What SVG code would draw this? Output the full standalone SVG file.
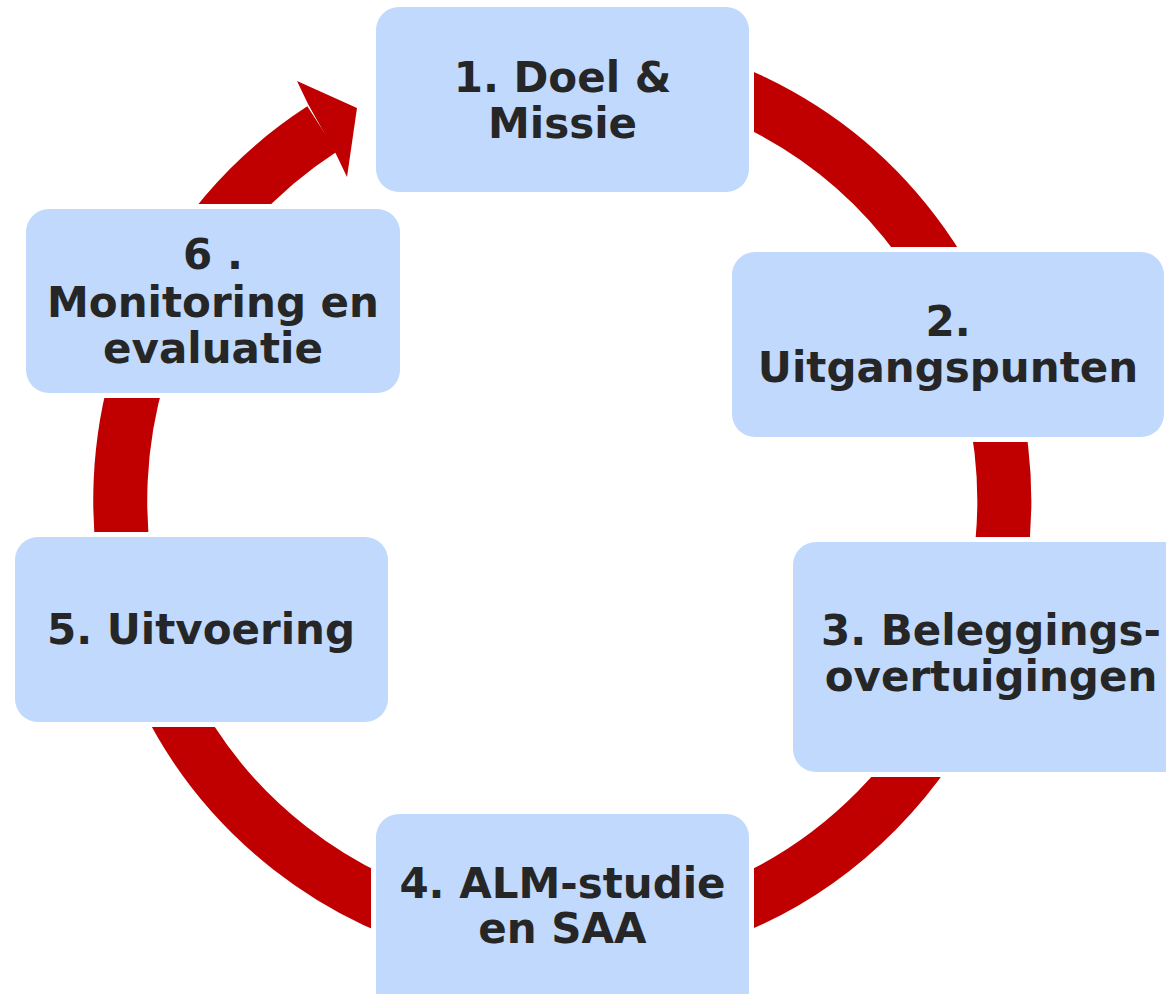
<svg xmlns="http://www.w3.org/2000/svg" width="1166" height="994" viewBox="0 0 1166 994">
<style>
.box{fill:#C0D9FD;stroke:#FFFFFF;stroke-width:10;paint-order:stroke}
.lbl{font-family:"DejaVu Sans","Verdana",sans-serif;font-weight:bold;font-size:42px;fill:#262626;text-anchor:middle}
.ring{fill:none;stroke:#C00000;stroke-width:54}
</style>
<rect width="1166" height="994" fill="#FFFFFF"/>
<g id="connectors">
<path class="ring" d="M 562 58 A 442 442 0 1 1 322 129"/>
<polygon points="308,104 297,81 357,108 347,177 336,154" fill="#C00000"/>
</g>
<g id="node1">
<rect class="box" x="376" y="7" width="373" height="185" rx="23"/>
<text class="lbl" x="562.5" y="92">1. Doel &amp;</text>
<text class="lbl" x="562.5" y="138">Missie</text>
</g>
<g id="node2">
<rect class="box" x="732" y="252" width="432" height="185" rx="23"/>
<text class="lbl" x="948" y="336">2.</text>
<text class="lbl" x="948" y="382">Uitgangspunten</text>
</g>
<g id="node3">
<rect class="box" x="793" y="542" width="400" height="230" rx="23"/>
<text class="lbl" x="991" y="645">3. Beleggings-</text>
<text class="lbl" x="991" y="691">overtuigingen</text>
</g>
<g id="node4">
<rect class="box" x="376" y="814" width="373" height="200" rx="23"/>
<text class="lbl" x="562.5" y="898">4. ALM-studie</text>
<text class="lbl" x="562.5" y="943">en SAA</text>
</g>
<g id="node5">
<rect class="box" x="15" y="537" width="373" height="185" rx="23"/>
<text class="lbl" x="201" y="644">5. Uitvoering</text>
</g>
<g id="node6">
<rect class="box" x="26" y="209" width="374" height="184" rx="23"/>
<text class="lbl" x="213" y="269">6 .</text>
<text class="lbl" x="213" y="317">Monitoring en</text>
<text class="lbl" x="213" y="363">evaluatie</text>
</g>
</svg>
